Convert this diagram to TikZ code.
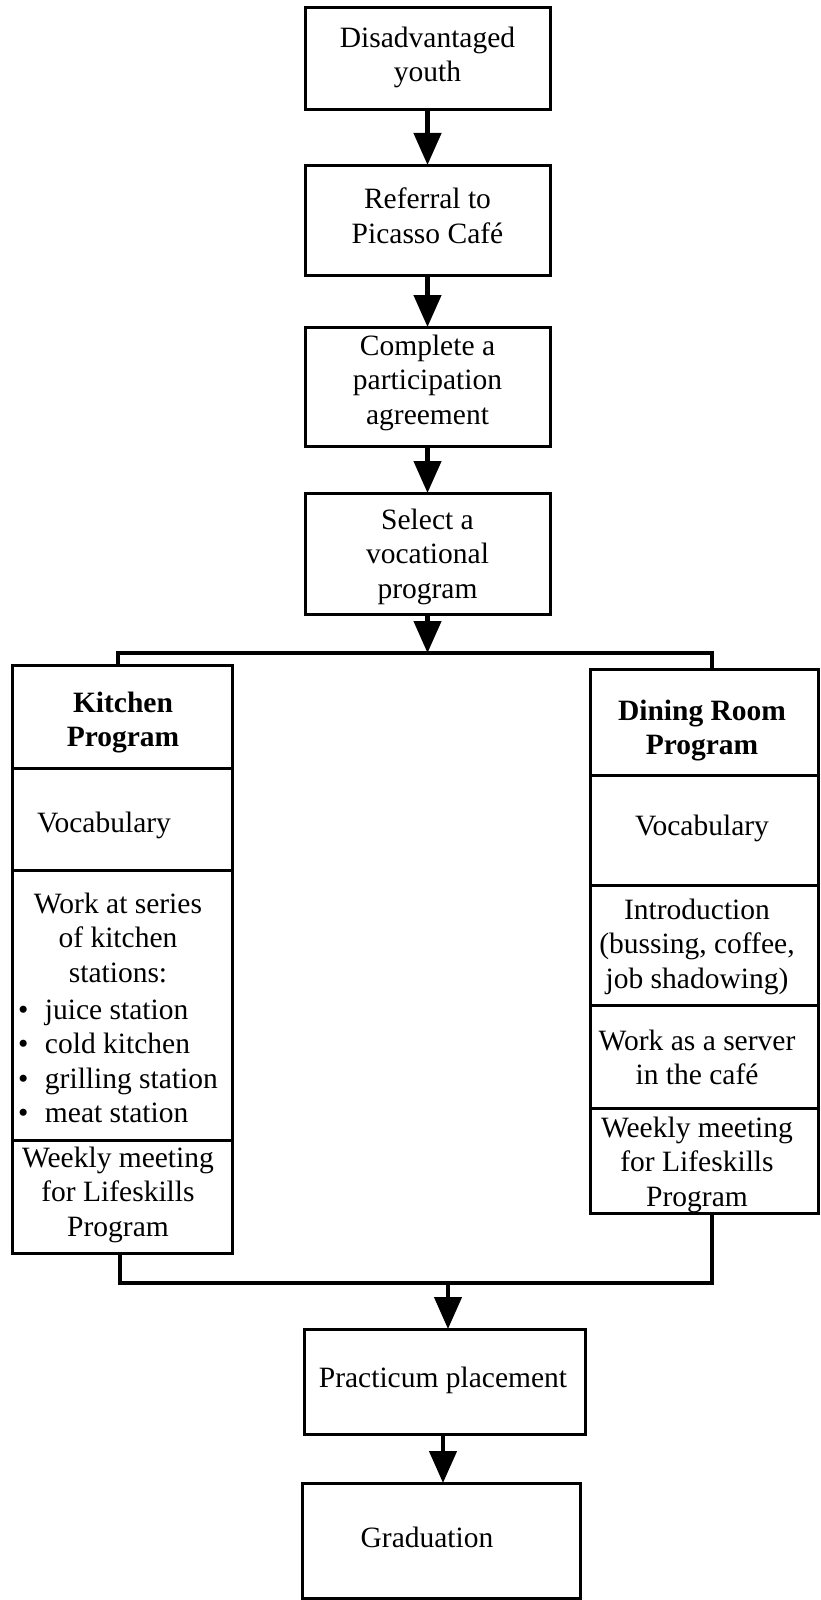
\documentclass[tikz,border=0pt]{standalone}
\usepackage{fontspec}
\setmainfont{Liberation Serif}
\usetikzlibrary{arrows.meta}
\begin{document}
\begin{tikzpicture}[x=1pt,y=-1pt,
  box/.style={draw, line width=3pt, inner sep=0pt, outer sep=0pt},
  txt/.style={inner sep=0pt, outer sep=0pt, anchor=north, align=center, font=\fontsize{29.5}{34.5}\selectfont},
  btxt/.style={txt, font=\fontsize{29.5}{34.5}\selectfont\bfseries},
  ln/.style={line width=3.5pt},
  arr/.style={line width=4.5pt, -{Triangle[width=27pt,length=32pt]}}]
\useasboundingbox (0,0) rectangle (820,1600);
% top chain
\node[box, minimum width=245pt, minimum height=102pt] (b1) at (427.5,59) {};
\node[box, minimum width=245pt, minimum height=110pt] (b2) at (427.5,220) {};
\node[box, minimum width=245pt, minimum height=119pt] (b3) at (427.5,386.5) {};
\node[box, minimum width=245pt, minimum height=121pt] (b4) at (427.5,553.5) {};
\node[txt] (t1) at (427.5,27) {Disadvantaged\\youth};
\node[txt] (t2) at (427.5,188) {Referral to\\Picasso Café};
\node[txt] (t3) at (427.5,335) {Complete a\\participation\\agreement};
\node[txt] (t4) at (427.5,509) {Select a\\vocational\\program};
\draw[arr] (b1.south) -- (b2.north);
\draw[arr] (b2.south) -- (b3.north);
\draw[arr] (b3.south) -- (b4.north);
% split
\coordinate (split) at (427.5,653);
\coordinate (jl) at (118,653);
\coordinate (jr) at (712,653);
% kitchen column
\node[box, minimum width=220pt, minimum height=103pt] (khead) at (122,716.5) {};
\node[box, minimum width=220pt, minimum height=102pt] (kvoc) at (122,819) {};
\node[box, minimum width=220pt, minimum height=270pt] (kst) at (122,1005) {};
\node[box, minimum width=220pt, minimum height=113pt] (kweek) at (122,1196.5) {};
\node[btxt] (tkh) at (123,692) {Kitchen\\Program};
\node[txt] (tkv) at (104,812) {Vocabulary};
\node[txt] (tks) at (118,893) {Work at series\\of kitchen\\stations:};
\node[txt, anchor=north west, align=left] (tkb) at (18,999.5)
  {\makebox[27pt][l]{\textbullet}juice station\\
   \makebox[27pt][l]{\textbullet}cold kitchen\\
   \makebox[27pt][l]{\textbullet}grilling station\\
   \makebox[27pt][l]{\textbullet}meat station};
\node[txt] (tkw) at (118,1147) {Weekly meeting\\for Lifeskills\\Program};
% dining column
\node[box, minimum width=228pt, minimum height=106pt] (dhead) at (704,722) {};
\node[box, minimum width=228pt, minimum height=110pt] (dvoc) at (704,830) {};
\node[box, minimum width=228pt, minimum height=120pt] (dint) at (704,945) {};
\node[box, minimum width=228pt, minimum height=103pt] (dwork) at (704,1056.5) {};
\node[box, minimum width=228pt, minimum height=105pt] (dweek) at (704,1160.5) {};
\node[btxt] (tdh) at (702,700) {Dining Room\\Program};
\node[txt] (tdv) at (702,815) {Vocabulary};
\node[txt] (tdi) at (697,899) {Introduction\\(bussing, coffee,\\job shadowing)};
\node[txt] (tdw) at (697,1030) {Work as a server\\in the café};
\node[txt] (tdk) at (697,1117) {Weekly meeting\\for Lifeskills\\Program};
\draw[arr] (b4.south) -- (split);
\draw[ln] (khead.north -| jl) -- (jl) -- (jr) -- (dhead.north -| jr);
% merge
\coordinate (ml) at (120,1283);
\coordinate (mr) at (712,1283);
\coordinate (merge) at (448,1283);
\draw[ln] (kweek.south -| ml) -- (ml) -- (mr) -- (dweek.south -| mr);
% bottom chain
\node[box, minimum width=281pt, minimum height=105pt] (prac) at (444.5,1381.5) {};
\node[box, minimum width=278pt, minimum height=115pt] (grad) at (441,1540.5) {};
\node[txt] (tp) at (443,1367) {Practicum placement};
\node[txt] (tg) at (427,1527) {Graduation};
\draw[arr] (merge) -- (merge |- prac.north);
\draw[arr] (prac.south -| 443,0) -- (443,1483);
\end{tikzpicture}
\end{document}
